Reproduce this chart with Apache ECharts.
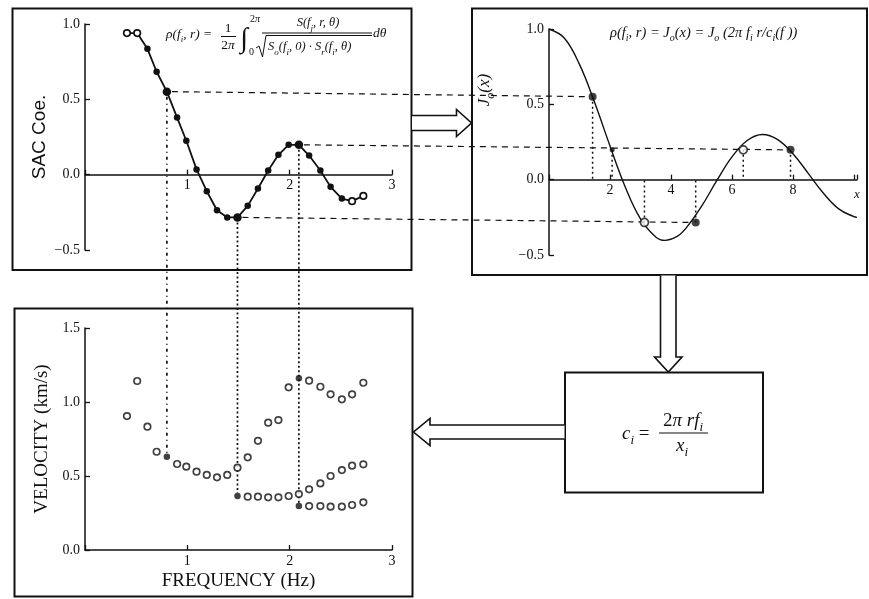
<!DOCTYPE html>
<html>
<head>
<meta charset="utf-8">
<script src="https://cdn.jsdelivr.net/npm/echarts@6/dist/echarts.min.js"></script>
<style>
  html, body { margin: 0; padding: 0; background: #fff; }
  #chart { width: 869px; height: 599px; }
</style>
</head>
<body>
<div id="chart"></div>
<script>
// Frequencies (Hz) shared by the SAC coefficients and the phase-velocity picks
const freq = [0.41, 0.51, 0.61, 0.70, 0.80, 0.90, 0.99, 1.09, 1.19, 1.29, 1.39, 1.49,
              1.59, 1.69, 1.79, 1.89, 1.99, 2.09, 2.19, 2.30, 2.40, 2.51, 2.61, 2.72];

// Spatial autocorrelation coefficients at each frequency
const sacCoef = [0.94, 0.94, 0.835, 0.683, 0.551, 0.379, 0.225, 0.035, -0.11, -0.236, -0.284, -0.284,
                 -0.207, -0.092, 0.028, 0.132, 0.198, 0.198, 0.127, 0.028, -0.081, -0.159, -0.176, -0.141];
const sacOpenIdx = [0, 1, 22, 23];        // points drawn as open circles
const pickIdx = [4, 11, 17];              // frequencies followed through the diagram

// Bessel J0(x) curve
const besselX = [0, 0.5, 1, 1.5, 2, 2.5, 3, 3.5, 3.8, 4.2, 4.5, 5, 5.5, 6, 6.5, 7, 7.5, 8, 8.5, 9, 9.5, 10, 10.1];
const besselY = [1.0, 0.94, 0.765, 0.51, 0.224, -0.048, -0.26, -0.38, -0.403, -0.377, -0.32, -0.178, -0.007,
                 0.151, 0.26, 0.30, 0.266, 0.172, 0.042, -0.09, -0.194, -0.246, -0.25];

// Arguments x where J0(x) equals the picked SAC values
const rootX = [1.43, 2.07, 3.13, 4.81, 6.37, 7.92];
const rootY = [0.551, 0.198, -0.284, -0.284, 0.198, 0.198];
const rootKind = ['filled', 'small', 'open', 'filled', 'open', 'filled'];

// Phase velocities (km/s), one array per branch of roots
const velBranch0 = [0.905, 1.142, 0.833, 0.664, 0.63, 0.581, 0.563, 0.529, 0.507, 0.491, 0.507, 0.556,
                    0.626, 0.738, 0.86, 0.878, 1.099, 1.16, 1.144, 1.103, 1.052, 1.018, 1.052, 1.13];
const velBranch1 = [0.365, 0.36, 0.36, 0.356, 0.356, 0.365, 0.378, 0.41, 0.45, 0.50, 0.54, 0.57, 0.579];
const velBranch2 = [0.297, 0.297, 0.297, 0.293, 0.293, 0.304, 0.322];
const branch1Start = 11, branch2Start = 17;
const branch0Filled = [4, 17];

// Axis tick labels
const sacTicks = ['1', '2', '3'];
const besselTicks = ['2', '4', '6', '8'];

const INK = '#111';
const SERIF = 'Liberation Serif';

const chart = echarts.init(document.getElementById('chart'), null, { renderer: 'canvas' });

function fmtSigned(v) {
  const s = Math.abs(v).toFixed(1);
  return v < 0 ? '\u2212' + s : s;
}

// layout of the three plotting areas
const grids = [
  { left: 85, top: 24, width: 307, height: 226, ymin: -0.5, ymax: 1.0 },
  { left: 549, top: 29, width: 308, height: 226, ymin: -0.5, ymax: 1.0 },
  { left: 85, top: 328, width: 307, height: 222, ymin: 0, ymax: 1.5 }
];
// shift a bottom x axis up so that it runs along y = 0
const zeroOffset = gr => -gr.height * (0 - gr.ymin) / (gr.ymax - gr.ymin);

function xAxisDef(gridIndex, max, interval, ticks, extra) {
  return Object.assign({
    type: 'value', gridIndex, min: 0, max, interval, position: 'bottom',
    offset: zeroOffset(grids[gridIndex]),
    axisLine: { show: true, onZero: false, lineStyle: { color: INK, width: 1.5 } },
    axisTick: { show: true, inside: true, length: 5, lineStyle: { color: INK, width: 1.3 } },
    axisLabel: {
      color: INK, fontFamily: SERIF, fontSize: 14, margin: 4,
      formatter: v => (ticks.indexOf(String(v)) >= 0 ? String(v) : '')
    },
    splitLine: { show: false }
  }, extra || {});
}

function yAxisDef(gridIndex, extra) {
  const gr = grids[gridIndex];
  return Object.assign({
    type: 'value', gridIndex, min: gr.ymin, max: gr.ymax, interval: 0.5,
    axisLine: { show: true, onZero: false, lineStyle: { color: INK, width: 1.5 } },
    axisTick: { show: true, inside: true, length: 5, lineStyle: { color: INK, width: 1.3 } },
    axisLabel: { color: INK, fontFamily: SERIF, fontSize: 14, margin: 5, formatter: fmtSigned },
    splitLine: { show: false }
  }, extra || {});
}

const openStyle = { color: '#fff', borderColor: INK, borderWidth: 1.7 };
const fillStyle = { color: INK, borderColor: INK, borderWidth: 0 };

const sacData = freq.map((f, i) => {
  const open = sacOpenIdx.indexOf(i) >= 0;
  const pick = pickIdx.indexOf(i) >= 0;
  return { value: [f, sacCoef[i]], symbolSize: pick ? 8.5 : 6.5, itemStyle: open ? openStyle : fillStyle };
});

const rootData = rootX.map((x, i) => ({
  value: [x, rootY[i]],
  symbolSize: rootKind[i] === 'small' ? 5 : 8,
  itemStyle: rootKind[i] === 'open' ? openStyle : fillStyle
}));

function velData(values, start, filled) {
  return values.map((v, i) => ({
    value: [freq[start + i], v],
    itemStyle: filled.indexOf(start + i) >= 0 ? fillStyle : openStyle
  }));
}

chart.setOption({
  animation: false,
  backgroundColor: '#fff',
  grid: grids.map(gr => ({ left: gr.left, top: gr.top, width: gr.width, height: gr.height, outerBoundsMode: 'none' })),
  xAxis: [
    xAxisDef(0, 3, 1, sacTicks),
    xAxisDef(1, 10.1, 2, besselTicks),
    xAxisDef(2, 3, 1, sacTicks, {
      name: 'FREQUENCY (Hz)', nameLocation: 'middle', nameGap: 22,
      nameTextStyle: { color: INK, fontFamily: SERIF, fontSize: 19 }
    })
  ],
  yAxis: [
    yAxisDef(0, {
      name: 'SAC Coe.', nameLocation: 'middle', nameRotate: 90, nameGap: 36,
      nameTextStyle: { color: INK, fontFamily: 'Liberation Sans', fontSize: 19 }
    }),
    yAxisDef(1),
    yAxisDef(2, {
      name: 'VELOCITY (km/s)', nameLocation: 'middle', nameRotate: 90, nameGap: 33,
      nameTextStyle: { color: INK, fontFamily: SERIF, fontSize: 19 }
    })
  ],
  series: [
    {
      name: 'SAC', type: 'line', xAxisIndex: 0, yAxisIndex: 0, data: sacData,
      symbol: 'circle', showAllSymbol: true, smooth: false,
      lineStyle: { color: INK, width: 1.8 }, z: 3
    },
    {
      name: 'J0', type: 'line', xAxisIndex: 1, yAxisIndex: 1,
      data: besselX.map((x, i) => [x, besselY[i]]),
      symbol: 'none', smooth: 0.4, lineStyle: { color: INK, width: 1.4 }, z: 3
    },
    {
      name: 'roots', type: 'scatter', xAxisIndex: 1, yAxisIndex: 1, data: rootData,
      symbol: 'circle', z: 4
    },
    {
      name: 'branch 0', type: 'scatter', xAxisIndex: 2, yAxisIndex: 2, symbolSize: 6.5,
      data: velData(velBranch0, 0, branch0Filled), z: 4
    },
    {
      name: 'branch 1', type: 'scatter', xAxisIndex: 2, yAxisIndex: 2, symbolSize: 6.5,
      data: velData(velBranch1, branch1Start, [branch1Start]), z: 4
    },
    {
      name: 'branch 2', type: 'scatter', xAxisIndex: 2, yAxisIndex: 2, symbolSize: 6.5,
      data: velData(velBranch2, branch2Start, [branch2Start]), z: 4
    }
  ]
});

// ---------- frames, arrows, formulas and guide lines ----------
const px = (g, x, y) => chart.convertToPixel({ gridIndex: g }, [x, y]);

function rich(size) {
  return {
    n: { fontFamily: SERIF, fontStyle: 'italic', fontSize: size, fill: INK, lineHeight: size + 7, verticalAlign: 'middle' },
    r: { fontFamily: SERIF, fontSize: size, fill: INK, lineHeight: size + 7, verticalAlign: 'middle' },
    s: { fontFamily: SERIF, fontStyle: 'italic', fontSize: Math.round(size * 0.68), fill: INK, lineHeight: Math.round(size * 0.7), verticalAlign: 'bottom' },
    p: { fontFamily: SERIF, fontSize: Math.round(size * 0.75), fill: INK, lineHeight: Math.round(size * 0.75), verticalAlign: 'top' }
  };
}

function text(x, y, str, size, align, extra) {
  return Object.assign({
    type: 'text', x, y, z: 20,
    style: { text: str, rich: rich(size), align: align || 'left', verticalAlign: 'middle',
             font: 'italic ' + size + 'px ' + SERIF, fill: INK }
  }, extra || {});
}

function seg(x1, y1, x2, y2, w, dash, z) {
  return {
    type: 'line', z: z == null ? 20 : z, silent: true,
    shape: { x1, y1, x2, y2 },
    style: { stroke: INK, lineWidth: w || 1, lineDash: dash || null }
  };
}

function frame(x1, y1, x2, y2) {
  return {
    type: 'rect', z: 0, silent: true,
    shape: { x: x1, y: y1, width: x2 - x1, height: y2 - y1 },
    style: { fill: null, stroke: INK, lineWidth: 2 }
  };
}

function arrow(points) {
  return {
    type: 'polyline', z: 25, silent: true,
    shape: { points },
    style: { fill: '#fff', stroke: INK, lineWidth: 1.6 }
  };
}

const g = [];

// panel frames
g.push(frame(12.5, 8.5, 411.5, 270));
g.push(frame(472, 8.5, 867, 275));
g.push(frame(14.5, 308.5, 412.5, 596.5));
g.push(frame(565, 372.5, 763, 492.5));

// hollow arrows between the panels
g.push(arrow([[412, 115.5], [456.5, 115.5], [456.5, 109.5], [471.5, 123], [456.5, 136.5], [456.5, 130.5], [412, 130.5]]));
g.push(arrow([[660.5, 275.5], [660.5, 357], [654.5, 357], [668.3, 372], [682, 357], [676, 357], [676, 275.5]]));
g.push(arrow([[564.5, 425], [430, 425], [430, 418.5], [413.5, 432], [430, 445.5], [430, 439], [564.5, 439]]));

// SAC definition
g.push(text(166, 34, '{n|\u03c1(f}{s|i}{n|, r) =}', 13.5));
g.push(text(228, 28, '{r|1}', 13.5, 'center'));
g.push(seg(221, 36.5, 236, 36.5, 1));
g.push(text(228, 45, '{r|2}{n|\u03c0}', 13.5, 'center'));
g.push({ type: 'text', x: 244, y: 40, z: 20,
         style: { text: '\u222b', font: '28px ' + SERIF, fill: INK, align: 'center', verticalAlign: 'middle' } });
g.push(text(250, 19, '{r|2}{n|\u03c0}', 10));
g.push(text(249, 52, '{r|0}', 10));
g.push(text(318, 23, '{n|S(f}{s|j}{n|, r, \u03b8)}', 12.5, 'center'));
g.push(seg(262, 33, 372, 33, 1));
g.push({
  type: 'polyline', z: 20, silent: true,
  shape: { points: [[256, 48], [259, 46], [262.5, 57], [266, 35.5], [372, 35.5]] },
  style: { fill: null, stroke: INK, lineWidth: 1 }
});
g.push(text(268, 47, '{n|S}{s|o}{n|(f}{s|i}{n|, 0) \u00b7 S}{s|r}{n|(f}{s|i}{n|, \u03b8)}', 12.5));
g.push(text(373, 33, '{n|d\u03b8}', 13.5));

// Bessel relation
g.push(text(610, 33, '{n|\u03c1(f}{s|i}{n|, r) = J}{s|o}{n|(x) = J}{s|o}{n| (2\u03c0 f}{s|i}{n| r/c}{s|i}{n|(f ))}', 14.5));
g.push(text(485, 90, '{n|J}{s|o}{n|(x)}', 17, 'center', { rotation: Math.PI / 2 }));
g.push(text(857, 195, '{n|x}', 13, 'center'));

// velocity conversion
g.push(text(622, 434, '{n|c}{s|i}{r| =}', 19));
g.push(text(683, 421, '{r|2}{n|\u03c0 rf}{s|i}', 19, 'center'));
g.push(seg(659, 433, 708, 433, 1.2));
g.push(text(682, 446, '{n|x}{s|i}', 19, 'center'));

// horizontal guides: SAC value carried to the J0 curve
const hPairs = [[pickIdx[0], 0], [pickIdx[1], 3], [pickIdx[2], 5]];
hPairs.forEach(([si, ri]) => {
  const a = px(0, freq[si], sacCoef[si]);
  const b = px(1, rootX[ri], rootY[ri]);
  g.push(seg(a[0] + 5, a[1], b[0] - 4, b[1], 1.2, [6, 5], 2));
});

// vertical guides from the roots to the x axis
rootX.forEach((x, i) => {
  const a = px(1, x, rootY[i]);
  const b = px(1, x, 0);
  g.push(seg(a[0], a[1], b[0], b[1], 1.5, [2, 3], 2));
});

// vertical guides: picked frequency carried down to its velocity
const vTargets = [velBranch0[pickIdx[0]], velBranch1[0], velBranch2[0]];
const vDash = [[3, 4, 1, 4], [2, 2.5], [2, 2.5]];
pickIdx.forEach((si, k) => {
  const a = px(0, freq[si], sacCoef[si]);
  const b = px(2, freq[si], vTargets[k]);
  g.push(seg(a[0], a[1] + 5, a[0], b[1] - 3, 1.7, vDash[k], 2));
});

chart.setOption({ graphic: { elements: g } });
</script>
</body>
</html>
